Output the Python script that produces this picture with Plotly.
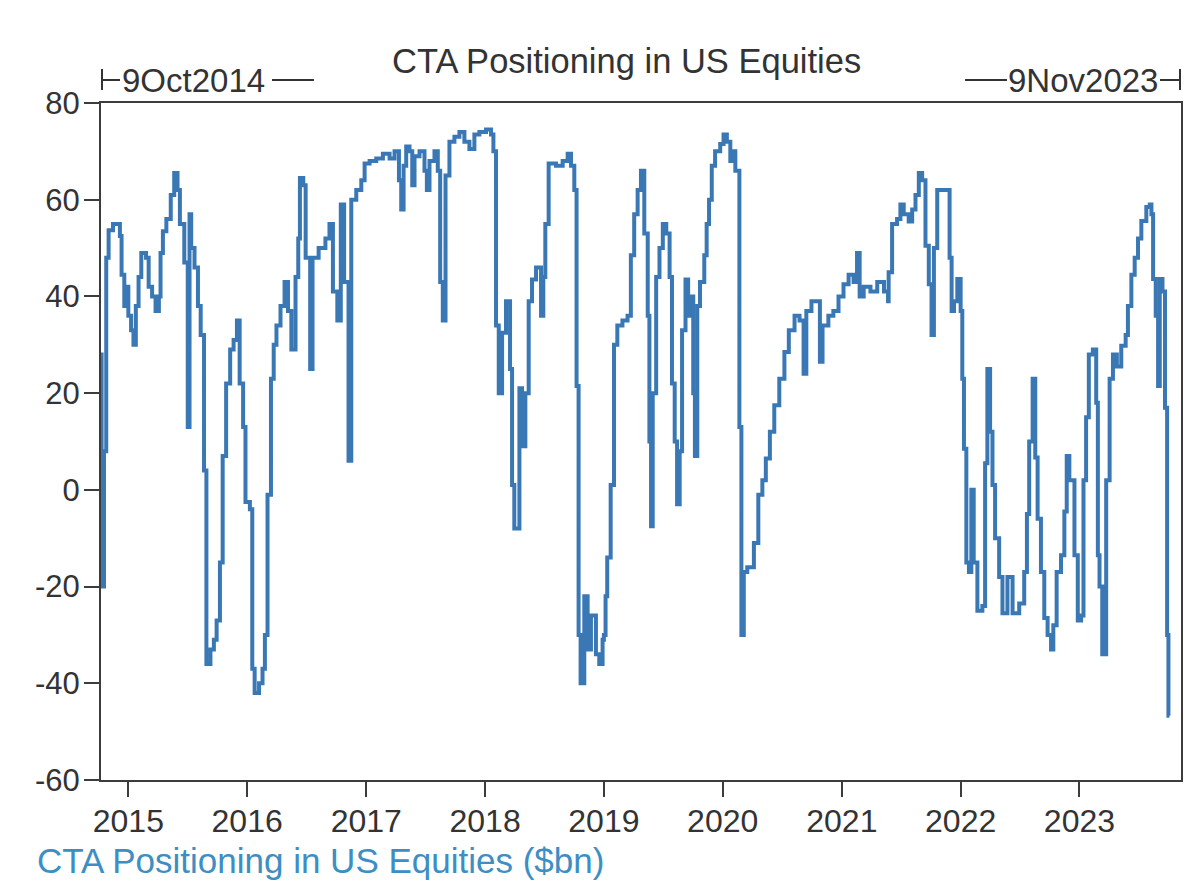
import datetime as dt
import plotly.graph_objects as go

# ---- data (decimal year, $bn) ----
t_year = [
    2014.766, 2014.775, 2014.795, 2014.814, 2014.834, 2014.871, 2014.929, 2014.943, 2014.966, 2014.986,
    2015.000, 2015.023, 2015.043, 2015.063, 2015.086, 2015.109, 2015.149, 2015.171, 2015.200, 2015.229,
    2015.257, 2015.271, 2015.291, 2015.320, 2015.357, 2015.386, 2015.414, 2015.434, 2015.471, 2015.500,
    2015.515, 2015.529, 2015.557, 2015.586, 2015.609, 2015.637, 2015.657, 2015.691, 2015.720, 2015.743,
    2015.771, 2015.794, 2015.823, 2015.857, 2015.886, 2015.914, 2015.937, 2015.966, 2015.986, 2016.023,
    2016.043, 2016.063, 2016.100, 2016.129, 2016.149, 2016.171, 2016.200, 2016.223, 2016.246, 2016.280,
    2016.314, 2016.343, 2016.371, 2016.406, 2016.429, 2016.443, 2016.471, 2016.491, 2016.529, 2016.549,
    2016.600, 2016.657, 2016.691, 2016.720, 2016.757, 2016.786, 2016.814, 2016.851, 2016.874, 2016.916,
    2016.958, 2016.986, 2017.028, 2017.084, 2017.140, 2017.196, 2017.238, 2017.275, 2017.294, 2017.314,
    2017.336, 2017.364, 2017.387, 2017.406, 2017.448, 2017.490, 2017.510, 2017.532, 2017.574, 2017.602,
    2017.622, 2017.644, 2017.667, 2017.700, 2017.742, 2017.784, 2017.826, 2017.868, 2017.910, 2017.952,
    2018.008, 2018.050, 2018.070, 2018.092, 2018.115, 2018.143, 2018.176, 2018.210, 2018.227, 2018.246,
    2018.289, 2018.311, 2018.339, 2018.367, 2018.395, 2018.429, 2018.471, 2018.490, 2018.507, 2018.535,
    2018.597, 2018.653, 2018.695, 2018.723, 2018.751, 2018.770, 2018.787, 2018.804, 2018.835, 2018.863,
    2018.891, 2018.933, 2018.961, 2018.989, 2019.000, 2019.014, 2019.028, 2019.057, 2019.085, 2019.113,
    2019.156, 2019.199, 2019.227, 2019.255, 2019.284, 2019.312, 2019.340, 2019.369, 2019.383, 2019.397,
    2019.411, 2019.440, 2019.468, 2019.496, 2019.525, 2019.553, 2019.573, 2019.596, 2019.616, 2019.638,
    2019.658, 2019.687, 2019.709, 2019.732, 2019.752, 2019.766, 2019.786, 2019.809, 2019.845, 2019.865,
    2019.885, 2019.908, 2019.936, 2019.979, 2020.007, 2020.035, 2020.064, 2020.085, 2020.106, 2020.140,
    2020.157, 2020.177, 2020.206, 2020.262, 2020.299, 2020.333, 2020.362, 2020.396, 2020.433, 2020.475,
    2020.518, 2020.555, 2020.603, 2020.645, 2020.679, 2020.702, 2020.745, 2020.782, 2020.816, 2020.838,
    2020.887, 2020.929, 2020.972, 2021.014, 2021.057, 2021.099, 2021.128, 2021.150, 2021.184, 2021.241,
    2021.298, 2021.355, 2021.389, 2021.394, 2021.423, 2021.465, 2021.493, 2021.521, 2021.563, 2021.592,
    2021.620, 2021.648, 2021.676, 2021.704, 2021.732, 2021.755, 2021.775, 2021.803, 2021.845, 2021.887,
    2021.907, 2021.924, 2021.944, 2021.972, 2022.000, 2022.014, 2022.028, 2022.048, 2022.070, 2022.090,
    2022.110, 2022.141, 2022.183, 2022.206, 2022.225, 2022.248, 2022.268, 2022.290, 2022.324, 2022.352,
    2022.394, 2022.437, 2022.493, 2022.535, 2022.558, 2022.577, 2022.606, 2022.628, 2022.648, 2022.676,
    2022.704, 2022.732, 2022.761, 2022.780, 2022.808, 2022.845, 2022.873, 2022.893, 2022.915, 2022.958,
    2022.986, 2023.014, 2023.034, 2023.056, 2023.079, 2023.113, 2023.141, 2023.155, 2023.169, 2023.192,
    2023.225, 2023.254, 2023.282, 2023.315, 2023.352, 2023.389, 2023.408, 2023.437, 2023.465, 2023.493,
    2023.521, 2023.563, 2023.592, 2023.606, 2023.620, 2023.642, 2023.662, 2023.676, 2023.699, 2023.720,
    2023.738, 2023.749, 2023.757,
]
positioning_bn = [
    28, -20, 8, 48, 53.7, 55, 52.5, 44.5, 38, 42,
    36, 33, 30, 38, 44, 49, 48, 42, 40, 37,
    40, 49, 53.5, 56, 61, 65.5, 62, 55, 47, 13,
    57, 50, 46, 38, 32, 4, -36, -33, -31, -27,
    -15, 7, 22, 29, 31, 35, 22, 13, -2.5, -4,
    -37, -42, -40, -37, -30, -1, 23, 30, 34, 38,
    43, 37, 29, 44, 52, 64.5, 63, 48, 25, 48,
    50, 52, 55, 41, 35, 59, 43, 6, 60, 62,
    64, 67.5, 68, 68.5, 69.5, 68.5, 70, 64, 58, 67,
    71, 70, 63, 69, 70, 66, 62, 68, 70, 66,
    43, 35, 65, 72, 73, 74, 72, 70.5, 73.5, 74,
    74.5, 73.5, 70, 34, 20, 32.5, 39, 25, 1, -8,
    21, 9, 20, 39, 43.5, 46, 36, 44, 55, 67.5,
    67, 68, 69.5, 67, 62, 21.5, -30, -40, -22, -33,
    -26, -34, -36, -31, -30, -22, -14, 1, 30, 34,
    35, 36, 48.5, 57, 62, 66, 53, 36, 10, -7.5,
    20, 44, 50, 55, 53, 44, 22, 10, -3, 8,
    33, 43.5, 36, 40, 20, 7, 38, 43, 48.5, 55,
    60, 67, 70, 71.5, 73.5, 72, 68, 70, 66, 13,
    -30, -17, -16, -11, -1, 2, 6.5, 12, 17.5, 23,
    28.5, 33, 36, 35, 24, 37, 39, 39, 26.5, 34,
    36, 37, 40, 42.5, 44.5, 43, 49, 40, 42, 41,
    43, 41, 39, 45, 55, 56, 59, 57, 55.5, 58,
    61, 65.5, 64, 50.5, 42.5, 32, 50, 62, 62, 62,
    48, 37, 39, 43.6, 37, 23, 8.5, -15, -17, 0,
    -15, -25, -24, 5.5, 25, 12, 1, -10, -18, -25.5,
    -18, -25.5, -23.5, -17, -5, 10, 23, 6.7, -6, -17,
    -26.5, -30, -33, -28, -17, -13.5, -4.5, 7, 2, -13.5,
    -27, -26, 2, 15, 28, 29, 18, -13.5, -20, -34,
    2, 23, 28, 25.5, 29.8, 32, 38, 44.5, 48, 52,
    55.6, 58.5, 59, 57, 43.6, 36, 21.5, 43.6, 41, 17,
    -30, -46.7, -46.7,
]
year_ticks = [2015, 2016, 2017, 2018, 2019, 2020, 2021, 2022, 2023]
year_labels = [str(y) for y in year_ticks]
y_ticks = [-60, -40, -20, 0, 20, 40, 60, 80]
y_labels = [str(v) for v in y_ticks]
range_start = "2014-10-09"
range_end = "2023-11-09"
title_text = "CTA Positioning in US Equities"
series_name = "CTA Positioning in US Equities ($bn)"
start_label = "9Oct2014"
end_label = "9Nov2023"


def to_date(y):
    yr = int(y)
    a = dt.datetime(yr, 1, 1)
    b = dt.datetime(yr + 1, 1, 1)
    return a + (b - a) * (y - yr)


dates = [to_date(v) for v in t_year]
tick_dates = [dt.datetime(y, 1, 1) for y in year_ticks]

LINE = "#3a78b5"
AX = "#3c3c3c"
TXT = "#333333"
REG = "Liberation Sans, Arial, sans-serif"

# the page body adds an 8px offset, so margins are reduced by 8 on left/top
OFF = 8

fig = go.Figure()
fig.add_trace(go.Scatter(
    x=dates, y=positioning_bn, mode="lines", line_shape="hv",
    line=dict(color=LINE, width=4), name=series_name, showlegend=False,
))

fig.update_layout(
    width=1200, height=888,
    margin=dict(l=101 - OFF, r=19 + OFF, t=103 - OFF, b=108 + OFF),
    paper_bgcolor="white", plot_bgcolor="white",
    font=dict(family=REG, size=31, color=TXT),
)
fig.update_xaxes(
    type="date", range=[range_start, range_end],
    tickvals=tick_dates, ticktext=year_labels,
    ticks="outside", ticklen=15, tickwidth=2, tickcolor=AX,
    showline=True, linecolor=AX, linewidth=2, mirror=True,
    showgrid=False, zeroline=False, ticklabelstandoff=-3,
    tickfont=dict(family=REG, size=32, color=TXT),
)
fig.update_yaxes(
    range=[-60, 80], tickvals=y_ticks, ticktext=y_labels,
    ticks="outside", ticklen=15, tickwidth=2, tickcolor=AX,
    showline=True, linecolor=AX, linewidth=2, mirror=True,
    showgrid=False, zeroline=False, ticklabelstandoff=-2,
    tickfont=dict(family=REG, size=31, color=TXT),
)

H = 677.0
W = 1080.0


def px(x):
    return (x - 101) / W


def py(y):
    return (780 - y) / H


fig.add_annotation(text=title_text, xref="paper", yref="paper",
                   x=px(626), y=py(61), xanchor="center", yanchor="middle",
                   showarrow=False, font=dict(family=REG, size=34.5, color=TXT))
fig.add_annotation(text=start_label, xref="paper", yref="paper",
                   x=px(120), y=py(80), xanchor="left", yanchor="middle",
                   showarrow=False, font=dict(family=REG, size=33, color=TXT))
fig.add_annotation(text=end_label, xref="paper", yref="paper",
                   x=px(1160), y=py(80), xanchor="right", yanchor="middle",
                   showarrow=False, font=dict(family=REG, size=33, color=TXT))
fig.add_annotation(text=series_name, xref="paper", yref="paper",
                   x=px(35), y=py(860), xanchor="left", yanchor="middle",
                   showarrow=False, font=dict(family=REG, size=35, color="#3d8ec4"))

seg = dict(color=TXT, width=2)
for x0, y0, x1, y1 in [(102, 69, 102, 90), (102, 80, 120, 80), (272, 80, 314, 80),
                       (965, 80, 1007, 80), (1160, 80, 1180, 80), (1180, 69, 1180, 90)]:
    fig.add_shape(type="line", xref="paper", yref="paper",
                  x0=px(x0), y0=py(y0), x1=px(x1), y1=py(y1), line=seg)

fig.write_html("out.html")
